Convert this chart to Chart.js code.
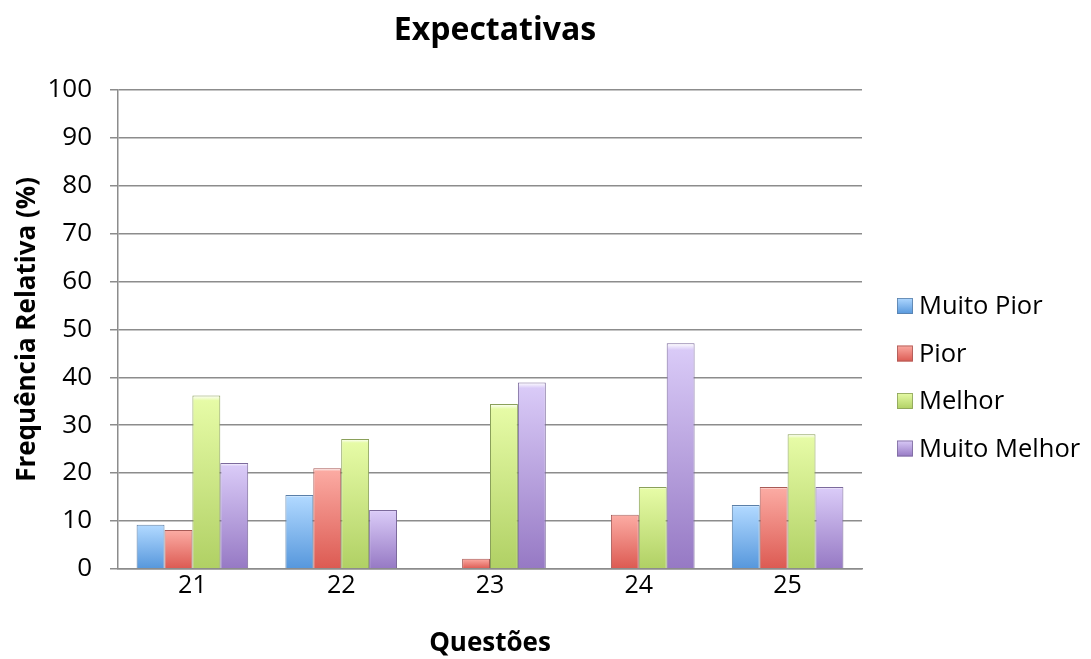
<!DOCTYPE html>
<html>
<head>
<meta charset="utf-8">
<script src="https://cdn.jsdelivr.net/npm/chart.js@4.4.1/dist/chart.umd.min.js"></script>
<style>
  html, body { margin: 0; padding: 0; background: #ffffff; }
  #wrap { width: 1091px; height: 659px; position: relative; }
</style>
</head>
<body>
<div id="wrap"><canvas id="c"></canvas></div>
<script>
// ---- data ----
const chartTitle = 'Expectativas';
const categories = ['21', '22', '23', '24', '25'];
const seriesNames = ['Muito Pior', 'Pior', 'Melhor', 'Muito Melhor'];
const muitoPior   = [9.2, 15.4, 0, 0, 13.3];
const pior        = [8.1, 21.0, 2.1, 11.3, 17.1];
const melhor      = [36.2, 27.1, 34.4, 17.1, 28.1];
const muitoMelhor = [22.1, 12.3, 38.9, 47.1, 17.1];
const yTicks = [0, 10, 20, 30, 40, 50, 60, 70, 80, 90, 100];

// ---- styles ----
const topColors    = ['#b0d8ff', '#fbaaa2', '#e6fba6', '#d9caf7'];
const bottomColors = ['#5697dc', '#dc5a52', '#b0d064', '#9679c4'];
const borderColors = ['#5a7fa8', '#a85a56', '#8aa05a', '#7c6a9c'];

const seriesValues = [muitoPior, pior, melhor, muitoMelhor];

function gradFor(i) {
  return function (ctx) {
    const chart = ctx.chart;
    if (ctx.type !== 'data' || !chart.chartArea || !chart.scales.y) return bottomColors[i];
    const ys = chart.scales.y;
    const top = ys.getPixelForValue(ctx.raw);
    const base = ys.getPixelForValue(0);
    if (!isFinite(top) || !isFinite(base) || Math.abs(base - top) < 1) return bottomColors[i];
    const g = chart.ctx.createLinearGradient(0, top, 0, base);
    g.addColorStop(0, '#ffffff');
    g.addColorStop(0.03, topColors[i]);
    g.addColorStop(1, bottomColors[i]);
    return g;
  };
}

const datasets = seriesNames.map((name, i) => ({
  label: name,
  data: seriesValues[i],
  backgroundColor: gradFor(i),
  borderColor: borderColors[i],
  borderWidth: (ctx) => (ctx.raw ? 1 : 0),
  borderSkipped: 'bottom',
  categoryPercentage: 0.75,
  barPercentage: 1.0
}));

const titlePlugin = {
  id: 'centerTitle',
  afterDraw(chart) {
    const c = chart.ctx;
    const area = chart.chartArea;
    c.save();
    c.font = 'bold 32px "Open Sans", sans-serif';
    c.fillStyle = '#000000';
    c.textAlign = 'center';
    c.textBaseline = 'middle';
    c.fillText(chartTitle, (area.left + area.right) / 2 + 5, 31);
    c.restore();
  }
};

const legendPlugin = {
  id: 'sideLegend',
  afterDraw(chart) {
    const c = chart.ctx;
    const area = chart.chartArea;
    const x0 = area.right + 35;
    const rowH = 47.5;
    const y0 = area.top + 216;
    c.save();
    c.font = '25.5px "Open Sans", sans-serif';
    c.textBaseline = 'middle';
    c.textAlign = 'left';
    chart.data.datasets.forEach((ds, i) => {
      const yc = y0 + i * rowH;
      const g = c.createLinearGradient(0, yc - 8, 0, yc + 8);
      g.addColorStop(0, topColors[i]);
      g.addColorStop(1, bottomColors[i]);
      c.fillStyle = g;
      c.fillRect(x0, yc - 8, 16, 16);
      c.strokeStyle = borderColors[i];
      c.lineWidth = 0.8;
      c.strokeRect(x0 + 0.5, yc - 7.5, 15, 15);
      c.fillStyle = '#000000';
      c.fillText(ds.label, x0 + 22, yc + 1);
    });
    c.restore();
  }
};

new Chart(document.getElementById('c'), {
  type: 'bar',
  data: { labels: categories, datasets: datasets },
  plugins: [titlePlugin, legendPlugin],
  options: {
    responsive: true,
    maintainAspectRatio: false,
    animation: false,
    layout: { padding: { left: 0, right: 229, top: 90, bottom: 0 } },
    plugins: {
      legend: { display: false },
      tooltip: { enabled: false },
      title: { display: false }
    },
    scales: {
      x: {
        grid: { display: false, drawTicks: false },
        border: { display: true, color: '#8c8c8c', width: 1.5 },
        ticks: {
          color: '#000000',
          font: { family: '"Open Sans", sans-serif', size: 25 },
          padding: 2
        },
        title: {
          display: true,
          text: 'Questões',
          color: '#000000',
          font: { family: '"Open Sans", sans-serif', size: 26, weight: 'bold' },
          padding: { top: 25, bottom: 0 }
        }
      },
      y: {
        min: 0,
        max: 100,
        afterBuildTicks: (s) => { s.ticks = yTicks.map(v => ({ value: v })); },
        afterFit: (s) => { s.width = 118; },
        grid: { color: '#8c8c8c', lineWidth: 1.5, tickLength: 8, drawTicks: true },
        border: { display: true, color: '#8c8c8c', width: 1.5 },
        ticks: {
          color: '#000000',
          font: { family: '"Open Sans", sans-serif', size: 26 },
          padding: 18
        },
        title: {
          display: true,
          text: 'Frequência Relativa (%)',
          color: '#000000',
          font: { family: '"Open Sans", sans-serif', size: 26, weight: 'bold' },
          padding: { top: 12, bottom: 0 }
        }
      }
    }
  }
});
</script>
</body>
</html>
